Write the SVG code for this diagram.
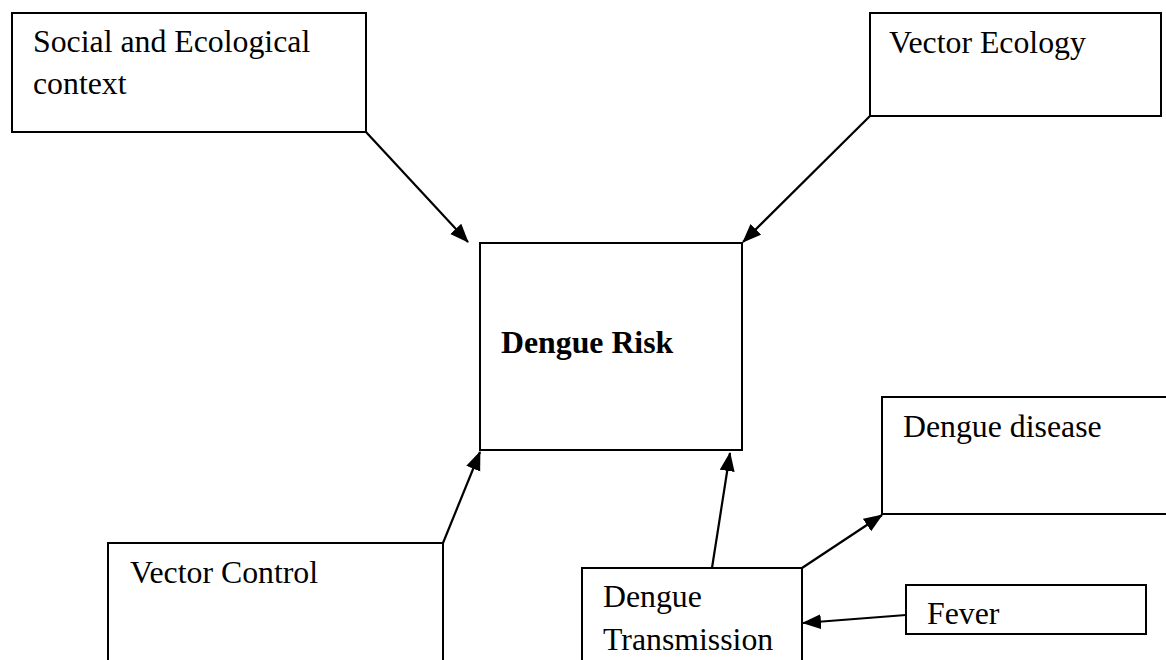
<svg xmlns="http://www.w3.org/2000/svg" width="1166" height="660" viewBox="0 0 1166 660">
  <style>
    .box { fill: #ffffff; stroke: #000000; stroke-width: 2; }
    .lbl { font-family: "Liberation Serif", "Times New Roman", serif; font-size: 31.8px; fill: #000000; }
    .bold { font-weight: bold; }
    .edge { stroke: #000000; stroke-width: 2.2; fill: none; marker-end: url(#arrow); }
  </style>
  <defs>
    <marker id="arrow" markerUnits="userSpaceOnUse" markerWidth="22" markerHeight="16" refX="18" refY="7.5" orient="auto">
      <path d="M0,0 L19,7.5 L0,15 z" fill="#000000"/>
    </marker>
  </defs>
  <rect width="1166" height="660" fill="#ffffff"/>

  <g id="social-ecological-context">
    <rect class="box" x="12" y="13" width="354" height="119"/>
    <text class="lbl" x="33" y="52">Social and Ecological</text>
    <text class="lbl" x="33" y="94">context</text>
  </g>

  <g id="vector-ecology">
    <rect class="box" x="870" y="13" width="291" height="103"/>
    <text class="lbl" x="889" y="53">Vector Ecology</text>
  </g>

  <g id="dengue-risk">
    <rect class="box" x="480" y="243" width="262" height="207"/>
    <text class="lbl bold" x="501" y="353">Dengue Risk</text>
  </g>

  <g id="dengue-disease">
    <rect class="box" x="882" y="397" width="300" height="117"/>
    <text class="lbl" x="903" y="437">Dengue disease</text>
  </g>

  <g id="vector-control">
    <rect class="box" x="108" y="543" width="335" height="140"/>
    <text class="lbl" x="130" y="583">Vector Control</text>
  </g>

  <g id="dengue-transmission">
    <rect class="box" x="582" y="568" width="220" height="120"/>
    <text class="lbl" x="603" y="607">Dengue</text>
    <text class="lbl" x="603" y="650">Transmission</text>
  </g>

  <g id="fever">
    <rect class="box" x="906" y="585" width="240" height="49"/>
    <text class="lbl" x="927" y="624">Fever</text>
  </g>

  <g id="connectors">
    <line class="edge" x1="366" y1="132" x2="468" y2="242"/>
    <line class="edge" x1="870" y1="116" x2="743" y2="242"/>
    <line class="edge" x1="443" y1="543" x2="480" y2="452"/>
    <line class="edge" x1="712" y1="568" x2="730" y2="453"/>
    <line class="edge" x1="802" y1="568" x2="882" y2="515"/>
    <line class="edge" x1="906" y1="615" x2="803" y2="623"/>
  </g>
</svg>
